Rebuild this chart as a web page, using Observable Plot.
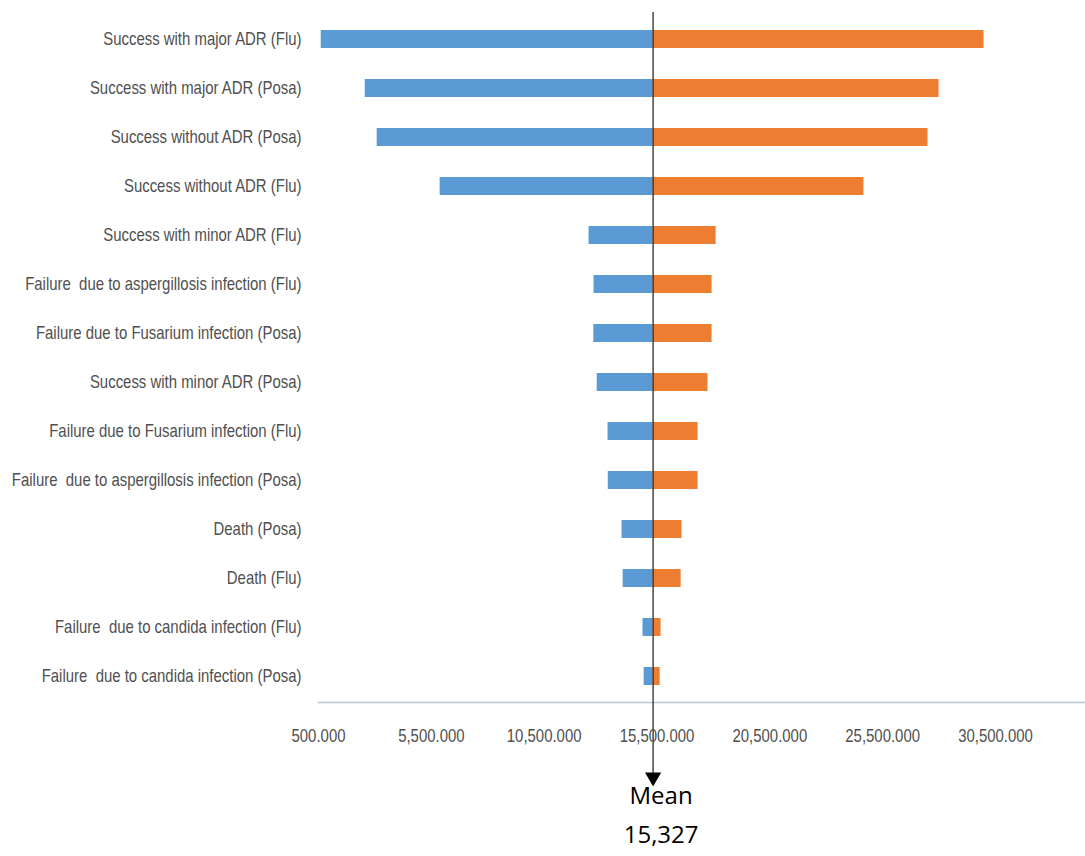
<!DOCTYPE html>
<html>
<head>
<meta charset="utf-8">
<script src="https://cdn.jsdelivr.net/npm/d3@7"></script>
<script src="https://cdn.jsdelivr.net/npm/@observablehq/plot@0.6"></script>
<style>
  body { margin: 0; background: #fff; }
  svg text { white-space: pre; }
</style>
</head>
<body>
<div id="chart"></div>
<script>
// One-way sensitivity (tornado) of the expected cost per outcome
const categories = [
  "Success with major ADR (Flu)",
  "Success with major ADR (Posa)",
  "Success without ADR (Posa)",
  "Success without ADR (Flu)",
  "Success with minor ADR (Flu)",
  "Failure  due to aspergillosis infection (Flu)",
  "Failure due to Fusarium infection (Posa)",
  "Success with minor ADR (Posa)",
  "Failure due to Fusarium infection (Flu)",
  "Failure  due to aspergillosis infection (Posa)",
  "Death (Posa)",
  "Death (Flu)",
  "Failure  due to candida infection (Flu)",
  "Failure  due to candida infection (Posa)"
];
const lowValues  = [620, 2570, 3100, 5890, 12490, 12710, 12700, 12850, 13330, 13340, 13950, 14000, 14880, 14930];
const highValues = [29990, 28000, 27510, 24670, 18120, 17940, 17940, 17760, 17320, 17320, 16610, 16570, 15680, 15640];
const meanValue = 15327;
const tickValues = [500, 5500, 10500, 15500, 20500, 25500, 30500];

const rows = categories.map((name, i) => ({name, low: lowValues[i], high: highValues[i]}));
const textGray = "#505050";
const labelFont = "'Liberation Sans', Arial, sans-serif";

const chart = Plot.plot({
  width: 1085,
  height: 856,
  marginLeft: 318,
  marginRight: 0,
  marginTop: 13,
  marginBottom: 154,
  style: {fontFamily: labelFont, background: "#fff", overflow: "visible"},
  x: {domain: [500, 34488]},
  y: {domain: categories, paddingInner: 0.634, paddingOuter: 0.325},
  marks: [
    // horizontal value axis line
    Plot.frame({anchor: "bottom", stroke: "#B4C6DA", strokeWidth: 1.5}),
    // low side (left of the mean) and high side (right of the mean)
    Plot.barX(rows, {y: "name", x1: "low", x2: () => meanValue, fill: "#5B9BD5"}),
    Plot.barX(rows, {y: "name", x1: () => meanValue, x2: "high", fill: "#ED7D31"}),
    // mean line continuing down into the arrow
    Plot.ruleX([meanValue], {stroke: "#2b2b2b", strokeWidth: 1.3, insetTop: -1, insetBottom: -72}),
    Plot.dot([meanValue], {
      x: d => d, frameAnchor: "bottom", dy: 74.7,
      symbol: "triangle", rotate: 180, r: 6, fill: "#000", stroke: null
    }),
    Plot.text([meanValue], {
      x: d => d, frameAnchor: "bottom", dy: 101, dx: 8,
      text: () => "Mean", fontSize: 24, fontFamily: "'Open Sans', sans-serif", fill: "#000"
    }),
    Plot.text([meanValue], {
      x: d => d, frameAnchor: "bottom", dy: 140, dx: 8,
      text: d => d3.format(",")(d), fontSize: 24, fontFamily: "'Open Sans', sans-serif", fill: "#000"
    }),
    Plot.axisX(tickValues, {
      anchor: "bottom", tickSize: 0, tickPadding: 27, label: null,
      tickFormat: d3.format(",.3f"), fontSize: 18, color: textGray
    }),
    Plot.axisY({anchor: "left", tickSize: 0, tickPadding: 17, label: null, fontSize: 18, color: textGray})
  ]
});

// narrow the axis labels horizontally around their anchor points
chart.querySelectorAll('g[aria-label="x-axis tick label"] text, g[aria-label="y-axis tick label"] text')
  .forEach(t => {
    const tr = t.getAttribute("transform") || "";
    t.setAttribute("transform", `${tr} scale(0.83,1)`);
  });

document.getElementById("chart").append(chart);
</script>
</body>
</html>
